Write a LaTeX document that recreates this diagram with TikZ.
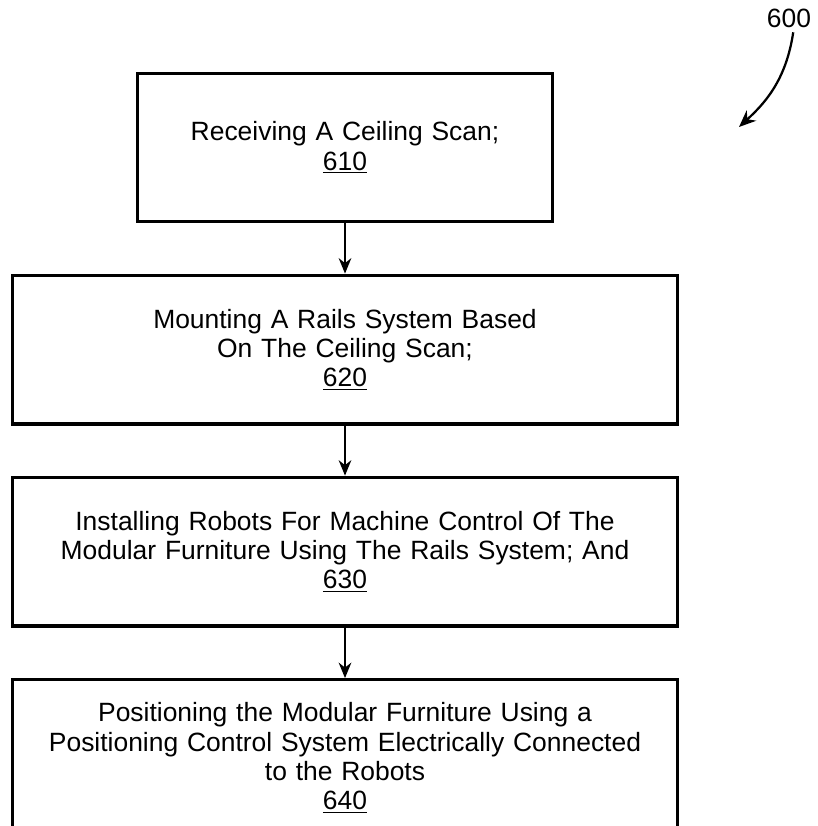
\documentclass[tikz,border=0pt]{standalone}
\usepackage{fontspec}
\setmainfont{Liberation Sans}
\usetikzlibrary{arrows.meta}
\tikzstyle{narrowbox} = [rectangle,
minimum width=10.35cm,
minimum height=3.72cm,
text centered,
text width=9.8cm,
line width=2.2pt,
draw=black]
\tikzstyle{widebox} = [rectangle,
minimum width=16.6cm,
minimum height=3.72cm,
text centered,
text width=16cm,
line width=2.2pt,
draw=black]
\tikzstyle{arrow} = [line width=1.3pt,-{Stealth[length=11pt,width=9pt]}]
\tikzstyle{leader} = [line width=1.6pt,-{Stealth[length=12pt,width=10pt]}]

\begin{document}
\begin{tikzpicture}[x=0.025cm, y=0.025cm, node distance=5.05cm,
  font=\fontsize{18.8pt}{20.8pt}\selectfont]

\useasboundingbox (0,0) rectangle (817,826);
\clip (0,0) rectangle (817,826);

\node (scan) [narrowbox] at (345,678.5) {Receiving A Ceiling Scan;\\ \underline{610}};

\node (mount) [widebox, below of=scan] {Mounting A Rails System Based\\ On The Ceiling Scan;\\ \underline{620}};
\draw [arrow] (scan) -- (mount);

\node (install) [widebox, below of=mount] {Installing Robots For Machine Control Of The\\ Modular Furniture Using The Rails System; And\\ \underline{630}};
\draw [arrow] (mount) -- (install);

\node (position) [widebox, minimum height=3.9cm, below of=install, yshift=-0.1cm] {Positioning the Modular Furniture Using a\\ Positioning Control System Electrically Connected\\ to the Robots\\ \underline{640}};
\draw [arrow] (install) -- (position);

% figure reference
\node (fig) at (789,808) {600};
\coordinate (figtip) at (739,699);
\draw [leader] ([xshift=3pt]fig.south) .. controls (786,745) and (764,722) .. (figtip);

\end{tikzpicture}
\end{document}
